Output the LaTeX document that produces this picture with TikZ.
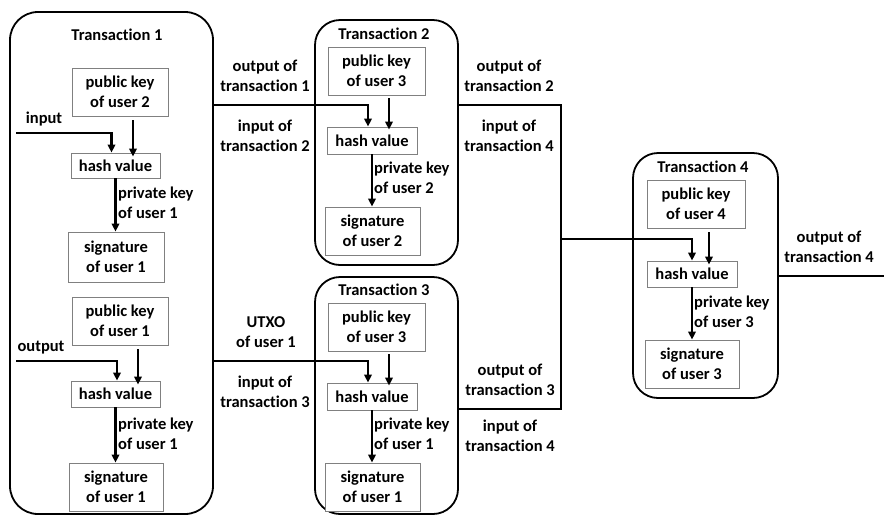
\documentclass[tikz,border=0pt]{standalone}
\usepackage{fontspec}
\setmainfont{Carlito}[Ligatures=NoCommon]
\usetikzlibrary{arrows.meta,calc}
\tikzset{
  every node/.style={font=\fontsize{16.5}{20}\selectfont\bfseries, inner sep=0pt},
  ibox/.style={draw=gray, line width=0.9pt, align=center, fill=white},
  txbox/.style={draw=black, line width=1.8pt, rounded corners=28pt},
  conn/.style={line width=2.4pt, black},
  arr/.style={conn, -{Triangle[length=8pt,width=7.5pt]}},
  lbl/.style={align=center},
  lbll/.style={align=left, anchor=west},
}
\begin{document}
\begin{tikzpicture}[x=1pt,y=-1pt]
\useasboundingbox (0,0) rectangle (884,515);
% containers
\node[txbox, minimum width=203pt, minimum height=502pt] (T1) at (111.5,263) {};
\node[txbox, rounded corners=25pt, minimum width=143pt, minimum height=245pt] (T2) at (386.5,142.5) {};
\node[txbox, rounded corners=25pt, minimum width=143pt, minimum height=237pt] (T3) at (386.5,395.5) {};
\node[txbox, rounded corners=25pt, minimum width=145pt, minimum height=245pt] (T4) at (705.5,275.5) {};
% titles
\node (t1) at (117,35) {Transaction 1};
\node (t2) at (384,34) {Transaction 2};
\node (t3) at (384,290) {Transaction 3};
\node (t4) at (703,167) {Transaction 4};
% Transaction 1
\node[ibox, minimum width=96pt, minimum height=48pt] (pk2) at (120,92) {public key\\of user 2};
\node[ibox, minimum width=89pt, minimum height=25pt] (h1) at (115.5,165.5) {hash value};
\node[ibox, minimum width=96pt, minimum height=50pt] (s1) at (116,257) {signature\\of user 1};
\node[ibox, minimum width=96pt, minimum height=48pt] (pk1) at (120,321) {public key\\of user 1};
\node[ibox, minimum width=89pt, minimum height=26pt] (h1b) at (115.5,394) {hash value};
\node[ibox, minimum width=94pt, minimum height=48pt] (s1b) at (116,487) {signature\\of user 1};
\coordinate (in1) at (16,133);
\coordinate (out1) at (16,361);
\node (linput) at (44,119) {input};
\node (loutput) at (41,348) {output};
\draw[arr] (in1) -| ([xshift=-4pt]h1.north);
\draw[arr] ([xshift=13pt,yshift=-4pt]pk2.south) -- ([xshift=13pt,yshift=-4pt]pk2.south |- h1.north);
\draw[arr] (h1.south) -- (h1.south |- s1.north);
\node[lbll] (pkl1) at (118,203) {private key\\of user 1};
\draw[arr] (out1) -| ([xshift=1.5pt]h1b.north);
\draw[arr] ([xshift=18pt,yshift=-4pt]pk1.south) -- ([xshift=18pt,yshift=-4pt]pk1.south |- h1b.north);
\draw[arr] (h1b.south) -- (h1b.south |- s1b.north);
\node[lbll] (pkl1b) at (118,433.5) {private key\\of user 1};
% Transaction 2
\node[ibox, minimum width=97pt, minimum height=48pt] (pk3) at (376.5,71) {public key\\of user 3};
\node[ibox, minimum width=90pt, minimum height=27pt] (h2) at (372,140.5) {hash value};
\node[ibox, minimum width=95pt, minimum height=48pt] (s2) at (372.5,231) {signature\\of user 2};
\draw[arr] ([xshift=12.5pt,yshift=-3pt]pk3.south) -- ([xshift=12.5pt,yshift=-3pt]pk3.south |- h2.north);
\draw[arr] (h2.south) -- (h2.south |- s2.north);
\node[lbll] (pkl2) at (374,178) {private key\\of user 2};
% Transaction 3
\node[ibox, minimum width=97pt, minimum height=48pt] (pk3b) at (376.5,327) {public key\\of user 3};
\node[ibox, minimum width=90pt, minimum height=27pt] (h3) at (372,396.5) {hash value};
\node[ibox, minimum width=95pt, minimum height=48pt] (s3) at (372.5,487) {signature\\of user 1};
\draw[arr] ([xshift=12.5pt,yshift=-3pt]pk3b.south) -- ([xshift=12.5pt,yshift=-3pt]pk3b.south |- h3.north);
\draw[arr] (h3.south) -- (h3.south |- s3.north);
\node[lbll] (pkl3) at (374,433.5) {private key\\of user 1};
% Transaction 4
\node[ibox, minimum width=98pt, minimum height=48pt] (pk4) at (696,204) {public key\\of user 4};
\node[ibox, minimum width=90pt, minimum height=26pt] (h4) at (692,274) {hash value};
\node[ibox, minimum width=94pt, minimum height=48pt] (s4) at (692,364) {signature\\of user 3};
\draw[arr] ([xshift=13pt,yshift=-4pt]pk4.south) -- ([xshift=13pt,yshift=-4pt]pk4.south |- h4.north);
\draw[arr] (h4.south) -- (h4.south |- s4.north);
\node[lbll] (pkl4) at (694,311.5) {private key\\of user 3};
% links between transactions
\coordinate (a1) at (T1.east |- 0,105);
\coordinate (a2) at (T1.east |- 0,361);
\draw[arr] (a1) -| ([xshift=-4pt]h2.north);
\draw[arr] (a2) -| ([xshift=-4pt]h3.north);
\node[lbl] (lo1) at (265,76) {output of\\transaction 1};
\node[lbl] (li2) at (265,136) {input of\\transaction 2};
\node[lbl] (lu1) at (266,332) {UTXO\\of user 1};
\node[lbl] (li3) at (265,392) {input of\\transaction 3};
\coordinate (b1) at (T2.east |- 0,105);
\coordinate (b2) at (T3.east |- 0,409);
\coordinate (jt) at (561,105);
\coordinate (jm) at (561,239);
\coordinate (jb) at (561,409);
\draw[conn] (b1) -- (jt) -- (jb) -- (b2);
\draw[arr] (jm) -| (h4.north);
\node[lbl] (lo2) at (509,76) {output of\\transaction 2};
\node[lbl] (li4a) at (509,136) {input of\\transaction 4};
\node[lbl] (lo3) at (510,380) {output of\\transaction 3};
\node[lbl] (li4b) at (510,436) {input of\\transaction 4};
\coordinate (c1) at (T4.east |- 0,276);
\coordinate (cend) at (884,276);
\draw[conn] (c1) -- (cend);
\node[lbl] (lo4) at (829,247) {output of\\transaction 4};
\end{tikzpicture}
\end{document}
